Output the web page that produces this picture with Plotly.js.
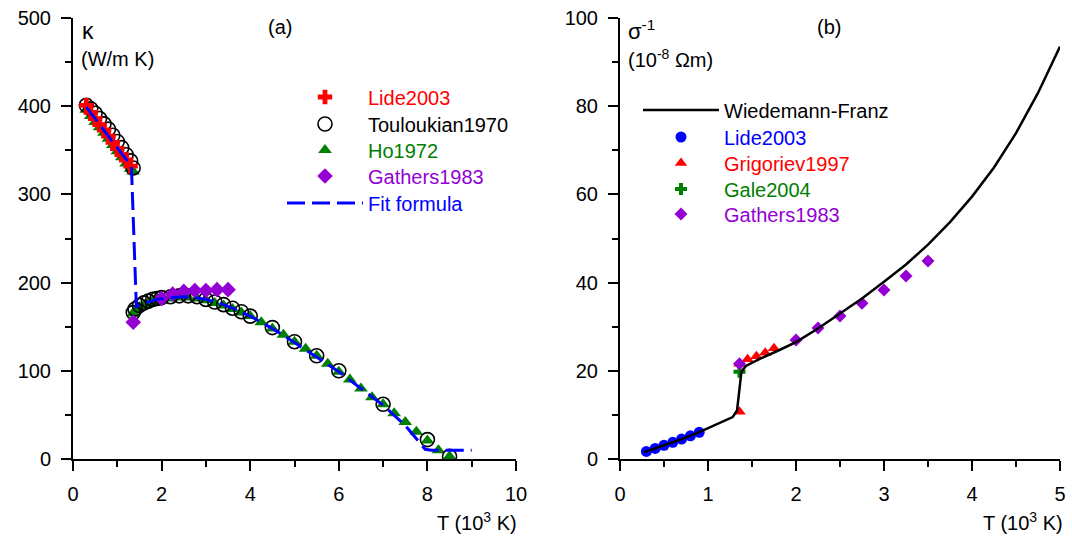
<!DOCTYPE html>
<html><head><meta charset="utf-8">
<script src="https://cdn.plot.ly/plotly-3.0.1.min.js"></script>
<style>html,body{margin:0;padding:0;background:#fff}#c{width:1072px;height:538px}</style>
</head><body><div id="c"></div>
<script>
// ---- Panel (a): thermal conductivity of copper ----
const lideK_T = [0.3,0.4,0.5,0.6,0.7,0.8,0.9,1.0,1.1,1.2,1.3];
const lideK_v = [401,393,386,379,373,366,359,352,345,339,332];
const toul_T = [0.3,0.4,0.5,0.6,0.7,0.8,0.9,1.0,1.1,1.2,1.3,1.357,
  1.36,1.4,1.5,1.6,1.7,1.8,1.9,2.0,2.2,2.4,2.6,2.8,3.0,3.2,3.4,3.6,3.8,4.0,4.5,5.0,5.5,6.0,7.0,8.0,8.5];
const toul_v = [401,397,392,386,380,374,367,360,353,345,338,330,
  166,170,174,177,179,181,182,183,184,185,185,184,181,178,175,171,167,162,149,133,117,100,62,22,3];
const ho_T = [0.3,0.4,0.5,0.6,0.7,0.8,0.9,1.0,1.1,1.2,1.3,1.357,
  1.36,1.4,1.5,1.6,1.7,1.8,1.9,2.0,2.2,2.4,2.6,2.8,3.0,3.2,3.4,3.6,3.8,4.0,4.25,4.5,4.75,5.0,5.25,5.5,5.75,6.0,6.25,6.5,6.75,7.0,7.25,7.5,7.75,8.0,8.25,8.5];
const ho_v = [396,389,382,376,370,363,356,349,342,335,329,326,
  165,168,172,175,177,179,180,181,182,183,183,182,180,177,174,170,166,162,155,148,141,133,125,117,108,99,90,80,70,62,52,42,31,21,10,3];
const gatK_T = [1.36,2.0,2.25,2.5,2.75,3.0,3.25,3.5];
const gatK_v = [155,182,187,190,191,191,192,192];
const fit_T = [0.3,0.5,0.7,0.9,1.1,1.3,1.32,1.43,1.5,1.7,1.9,2.1,2.3,2.5,2.7,3.0,3.3,3.6,4.0,4.5,5.0,5.5,6.0,6.5,7.0,7.5,7.8,7.95,8.1,9.0];
const fit_v = [399,386,373,360,347,333,330,173,175,178,181,182.5,183.5,184,183.5,181,177,171,162,148,132,116,99,80,61,38,20,11,10,10];

// ---- Panel (b): electrical resistivity of copper ----
const wf_T = [0.27,0.5,0.7,0.9,1.1,1.28,1.33,1.36,1.38,1.43,1.6,1.8,2.0,2.25,2.5,2.75,3.0,3.25,3.5,3.75,4.0,4.25,4.5,4.75,5.0];
const wf_v = [1.5,3.1,4.5,6.1,7.8,9.5,11,17,19.8,21.1,22.8,24.6,26.5,29.6,32.9,36.4,40.2,44.1,48.6,53.7,59.5,66.1,73.9,83.0,93.5];
const lideR_T = [0.3,0.4,0.5,0.6,0.7,0.8,0.9];
const lideR_v = [1.725,2.402,3.090,3.792,4.514,5.262,6.041];
const grig_T = [1.358,1.358,1.45,1.55,1.65,1.75];
const grig_v = [10.7,21.6,22.6,23.3,24.1,25.1];
const gale_T = [1.358];
const gale_v = [19.8];
const gatR_T = [1.358,2.0,2.25,2.5,2.75,3.0,3.25,3.5];
const gatR_v = [21.6,27,29.7,32.4,35.3,38.3,41.5,44.9];

const RED='#ff0000', GREEN='#008000', PURPLE='#9400d3', BLUE='#0000ff', BLACK='#000000';
const col=(c,t)=>'<span style="color:'+c+'">'+t+'</span>';

const traces = [
  {x:ho_T,y:ho_v,type:'scatter',mode:'markers',name:col(GREEN,'Ho1972'),legend:'legend3',
   marker:{symbol:'triangle-up',size:12,color:GREEN},xaxis:'x',yaxis:'y'},
  {x:toul_T,y:toul_v,type:'scatter',mode:'markers',name:col(BLACK,'Touloukian1970'),legend:'legend2',
   marker:{symbol:'circle-open',size:14,color:BLACK,line:{width:1.6,color:BLACK}},xaxis:'x',yaxis:'y'},
  {x:gatK_T,y:gatK_v,type:'scatter',mode:'markers',name:col(PURPLE,'Gathers1983'),legend:'legend4',
   marker:{symbol:'diamond',size:12,color:PURPLE},xaxis:'x',yaxis:'y'},
  {x:lideK_T,y:lideK_v,type:'scatter',mode:'markers',name:col(RED,'Lide2003'),legend:'legend',
   marker:{symbol:'cross',size:12,color:RED},xaxis:'x',yaxis:'y'},
  {x:fit_T,y:fit_v,type:'scatter',mode:'lines',name:col(BLUE,'Fit formula'),legend:'legend5',
   line:{color:BLUE,width:3,dash:'18px,7px'},xaxis:'x',yaxis:'y'},

  {x:lideR_T,y:lideR_v,type:'scatter',mode:'markers',name:col(BLUE,'Lide2003'),legend:'legend7',
   marker:{symbol:'circle',size:11,color:BLUE},xaxis:'x2',yaxis:'y2'},
  {x:grig_T,y:grig_v,type:'scatter',mode:'markers',name:col(RED,'Grigoriev1997'),legend:'legend8',
   marker:{symbol:'triangle-up',size:11,color:RED},xaxis:'x2',yaxis:'y2'},
  {x:gale_T,y:gale_v,type:'scatter',mode:'markers',name:col(GREEN,'Gale2004'),legend:'legend9',
   marker:{symbol:'cross',size:10,color:GREEN},xaxis:'x2',yaxis:'y2'},
  {x:gatR_T,y:gatR_v,type:'scatter',mode:'markers',name:col(PURPLE,'Gathers1983'),legend:'legend10',
   marker:{symbol:'diamond',size:10,color:PURPLE},xaxis:'x2',yaxis:'y2'},
  {x:wf_T,y:wf_v,type:'scatter',mode:'lines',name:col(BLACK,'Wiedemann-Franz'),legend:'legend6',
   line:{color:BLACK,width:2.5},xaxis:'x2',yaxis:'y2'}
];

const FONT = 'Arial, "Liberation Sans", sans-serif';
const axBase = {showgrid:false,zeroline:false,showline:true,linecolor:'#000',linewidth:2,
  ticks:'outside',ticklen:10,tickwidth:2,tickcolor:'#000',
  tickfont:{family:FONT,size:20,color:'#000'},ticklabelstandoff:6};
const W=1072,H=538;
const xd1=[73/W,516/W], xd2=[620/W,1060/W], yd=[1-459/H,1-18/H];

// one legend box per entry so each row sits where the reference puts it
const legRowsL=[98,125,151,177,204], legRowsR=[111,138,164,190,215];
function leg(xpx, ycenter){
  return {x:xpx/W,y:1-(ycenter-20.5)/H,xanchor:'left',yanchor:'top',bgcolor:'rgba(0,0,0,0)',
    font:{family:FONT,size:20},itemwidth:76,itemclick:false,borderwidth:0};
}
const layout = {
  width:W,height:H,margin:{l:0,r:0,t:0,b:0},paper_bgcolor:'#fff',plot_bgcolor:'rgba(0,0,0,0)',
  font:{family:FONT,size:19,color:'#000'},showlegend:true,
  xaxis:Object.assign({},axBase,{domain:xd1,range:[0,10],dtick:2,tick0:0,anchor:'y',
    minor:{dtick:1,ticklen:6,tickwidth:2,tickcolor:'#000',ticks:'outside'}}),
  yaxis:Object.assign({},axBase,{domain:yd,range:[0,500],dtick:100,tick0:0,anchor:'x',
    minor:{dtick:50,ticklen:6,tickwidth:2,tickcolor:'#000',ticks:'outside'}}),
  xaxis2:Object.assign({},axBase,{domain:xd2,range:[0,5],dtick:1,tick0:0,anchor:'y2',
    minor:{dtick:0.5,ticklen:6,tickwidth:2,tickcolor:'#000',ticks:'outside'}}),
  yaxis2:Object.assign({},axBase,{domain:yd,range:[0,100],dtick:20,tick0:0,anchor:'x2',
    minor:{dtick:10,ticklen:6,tickwidth:2,tickcolor:'#000',ticks:'outside'}}),
  legend:leg(282,legRowsL[0]), legend2:leg(282,legRowsL[1]), legend3:leg(282,legRowsL[2]),
  legend4:leg(282,legRowsL[3]), legend5:leg(282,legRowsL[4]),
  legend6:leg(638,legRowsR[0]), legend7:leg(638,legRowsR[1]), legend8:leg(638,legRowsR[2]),
  legend9:leg(638,legRowsR[3]), legend10:leg(638,legRowsR[4]),
  annotations:[
    {xref:'paper',yref:'paper',x:280/W,y:1-27/H,xanchor:'center',yanchor:'middle',text:'(a)',showarrow:false,font:{size:20}},
    {xref:'paper',yref:'paper',x:829/W,y:1-27/H,xanchor:'center',yanchor:'middle',text:'(b)',showarrow:false,font:{size:20}},
    {xref:'paper',yref:'paper',x:80/W,y:1-31/H,xanchor:'left',yanchor:'middle',text:'κ',showarrow:false,font:{size:23}},
    {xref:'paper',yref:'paper',x:79/W,y:1-59/H,xanchor:'left',yanchor:'middle',text:'(W/m K)',showarrow:false,font:{size:20}},
    {xref:'paper',yref:'paper',x:626/W,y:1-30/H,xanchor:'left',yanchor:'middle',text:'σ<sup>-1</sup>',showarrow:false,font:{size:22}},
    {xref:'paper',yref:'paper',x:626/W,y:1-58/H,xanchor:'left',yanchor:'middle',text:'(10<sup>-8</sup> Ωm)',showarrow:false,font:{size:20}},
    {xref:'paper',yref:'paper',x:519/W,y:1-521/H,xanchor:'right',yanchor:'middle',text:'T (10<sup>3</sup> K)',showarrow:false,font:{size:20}},
    {xref:'paper',yref:'paper',x:1065/W,y:1-521/H,xanchor:'right',yanchor:'middle',text:'T (10<sup>3</sup> K)',showarrow:false,font:{size:20}}
  ]
};
Plotly.newPlot('c',traces,layout,{staticPlot:true,displayModeBar:false});
</script></body></html>
